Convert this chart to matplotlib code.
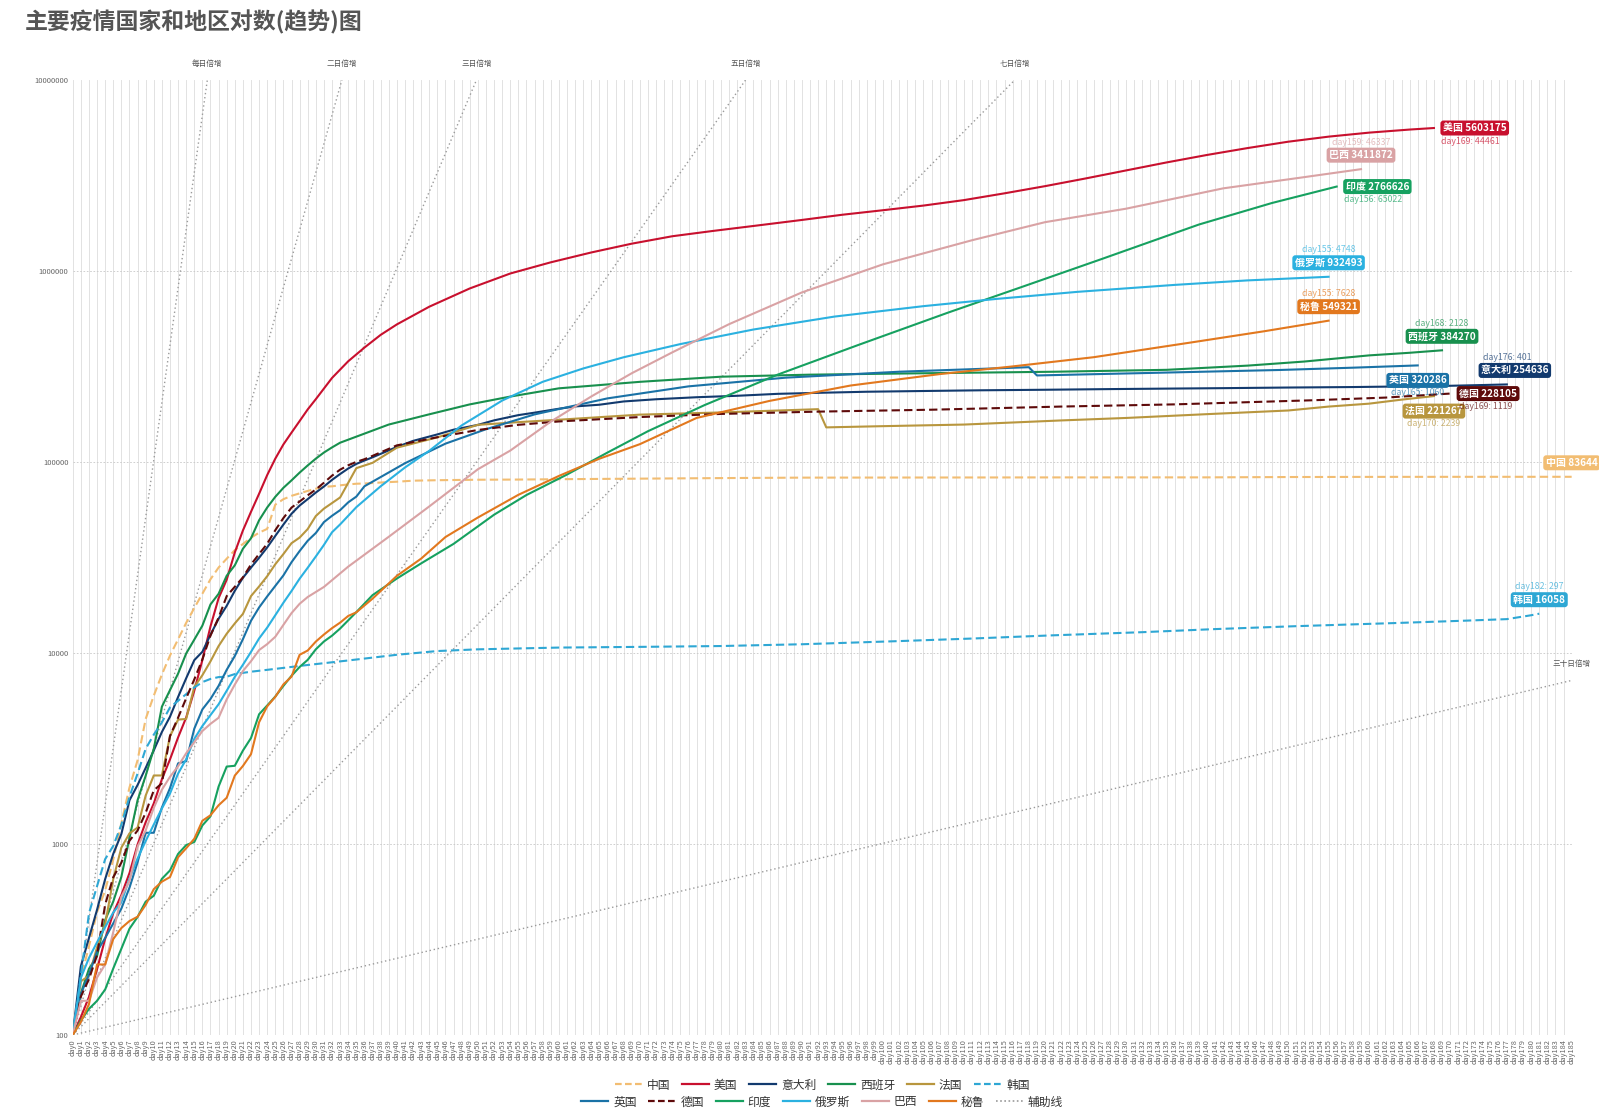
import matplotlib
matplotlib.use('Agg')
import matplotlib.pyplot as plt
from matplotlib.lines import Line2D
import numpy as np

plt.rcParams['font.family'] = ['Noto Sans CJK SC', 'DejaVu Sans']

# ---- data (cumulative cases, day index from first ~100 cases) ----
cn_days = list(range(37)) + [38, 40, 42, 45, 50, 55, 60, 70, 80, 90, 100, 110, 120, 140, 150, 160, 170, 185]
cn_vals = [100, 198, 291, 440, 571, 830, 1287, 1975, 2744, 4515, 5974, 7711, 9692, 11791, 14380, 17205, 20438,
           24324, 28018, 31161, 34546, 37198, 40171, 42638, 44653, 59804, 63851, 66492, 68500, 70548, 72436, 74185,
           74576, 75465, 76288, 76936, 77150,
           78064, 78824, 79824, 80270, 80735, 80905, 81250, 81800, 82350, 82800, 82880, 82950, 83020, 83070, 83400,
           83540, 83600, 83644]

us_days = list(range(31)) + [32, 34, 36, 38, 40, 44, 49, 54, 59, 64, 69, 74, 79, 84, 90, 95, 100, 105, 110, 115,
                             120, 125, 130, 135, 140, 145, 150, 155, 160, 165, 168]
us_vals = [100, 124, 158, 221, 319, 435, 541, 704, 994, 1301, 1630, 2183, 2770, 3613, 4596, 6344, 9197, 13779,
           19367, 24192, 33592, 43781, 54856, 68211, 85435, 104126, 123578, 142460, 163788, 188461, 213242,
           275367, 336802, 397121, 462780, 525000, 650000, 810000, 970000, 1110000, 1250000, 1390000, 1520000,
           1620000, 1720000, 1850000, 1970000, 2080000, 2200000, 2350000, 2550000, 2780000, 3050000, 3360000,
           3700000, 4050000, 4400000, 4750000, 5050000, 5300000, 5500000, 5603175]

it_days = list(range(38)) + [40, 42, 45, 47, 50, 52, 55, 57, 60, 62, 65, 68, 72, 77, 82, 87, 92, 98, 105, 112, 120,
                             128, 135, 142, 150, 158, 165, 170, 175, 177]
it_vals = [100, 229, 322, 453, 655, 888, 1128, 1694, 2036, 2502, 3089, 3858, 4636, 5883, 7375, 9172, 10149, 12462,
           15113, 17660, 21157, 24747, 27980, 31506, 35713, 41035, 47021, 53578, 59138, 63927, 69176, 74386, 80589,
           86498, 92472, 97689, 101739, 105792,
           119827, 128948, 139422, 147577, 156363, 165155, 175925, 181228, 189973, 195351, 199414, 207428, 213013,
           218268, 222104, 227364, 230158, 233197, 235278, 237290, 238833, 240760, 242149, 243506, 245338, 246776,
           248803, 250566, 253438, 254636]

es_days = list(range(34)) + [39, 44, 49, 54, 60, 70, 80, 91, 105, 121, 135, 145, 152, 160, 165, 169]
es_vals = [100, 165, 222, 259, 400, 500, 673, 1073, 1695, 2277, 3146, 5232, 6391, 7798, 9942, 11748, 13910, 17963,
           20410, 25374, 28768, 35136, 39885, 49515, 57786, 65719, 73235, 80110, 87956, 95923, 104118, 112065,
           119199, 126168,
           157022, 177644, 200210, 220000, 242988, 262783, 279524, 286509, 291408, 296739, 303699, 319501, 335602,
           361442, 373000, 384270]

fr_days = list(range(32)) + [33, 35, 37, 40, 45, 50, 55, 60, 70, 80, 92, 93, 100, 110, 122, 130, 140, 150, 155, 160,
                             164, 168]
fr_vals = [100, 191, 204, 288, 380, 656, 957, 1136, 1219, 1794, 2284, 2284, 3661, 4480, 4513, 6650, 7652, 9043,
           10871, 12612, 14282, 16018, 19856, 22304, 25233, 29155, 32964, 37575, 40174, 44550, 52128, 56989,
           65202, 92839, 98963, 118781, 134582, 156480, 161644, 166420, 176970, 181700, 189009, 151753, 154000,
           157000, 165000, 170000, 178000, 186000, 195000, 202000, 212000, 221267]

kr_days = list(range(23)) + [24, 29, 34, 40, 45, 50, 60, 71, 80, 90, 102, 111, 121, 132, 141, 151, 163, 172, 177,
                             179, 180, 181]
kr_vals = [100, 204, 433, 602, 833, 977, 1261, 1766, 2337, 3150, 3736, 4335, 5186, 5621, 6088, 6593, 7041, 7314,
           7478, 7513, 7755, 7869, 7979,
           8162, 8652, 9137, 9786, 10237, 10450, 10674, 10774, 10874, 11110, 11541, 11902, 12373, 12850, 13338,
           13816, 14336, 14770, 15039, 15515, 15761, 16058]

uk_days = list(range(36)) + [36, 41, 46, 51, 57, 66, 76, 88, 102, 118, 119, 132, 149, 158, 166]
uk_vals = [100, 164, 207, 274, 322, 384, 459, 590, 802, 1144, 1145, 1551, 1960, 2642, 2716, 4014, 5067, 5745, 6726,
           8164, 9640, 11812, 14745, 17312, 19780, 22453, 25481, 29865, 34173, 38689, 42477, 48436, 52279, 55949,
           61474, 65872,
           74605, 98476, 124743, 148377, 177454, 215260, 248818, 276332, 296857, 313483, 283757, 291911, 303181,
           311641, 320286]

de_days = list(range(38)) + [40, 45, 50, 55, 60, 70, 80, 92, 106, 122, 136, 153, 162, 170]
de_vals = [100, 159, 196, 262, 482, 670, 799, 1040, 1176, 1457, 1908, 2078, 3675, 4585, 5795, 7272, 9257, 12327,
           15320, 19848, 22213, 24873, 29056, 32986, 37323, 43938, 50871, 57695, 62095, 66885, 71808, 77872, 84794,
           91159, 96092, 100123, 103374, 107663,
           122171, 134753, 147065, 156513, 163009, 171879, 178473, 183494, 187764, 195042, 200260, 210402, 217293,
           228105]

in_days = list(range(34)) + [35, 37, 40, 43, 47, 52, 56, 61, 66, 71, 78, 87, 97, 108, 117, 127, 139, 148, 156]
in_vals = [100, 119, 137, 151, 173, 223, 283, 360, 415, 499, 536, 657, 727, 887, 987, 1024, 1251, 1397, 1998, 2543,
           2567, 3082, 3588, 4778, 5311, 5916, 6725, 7598, 8446, 9205, 10453, 11487, 12322, 13430,
           16365, 20080, 24530, 29451, 37257, 52952, 67161, 85940, 112028, 144950, 198706, 286579, 410461, 604641,
           820916, 1155191, 1750723, 2268675, 2766626]

ru_days = list(range(34)) + [35, 38, 41, 44, 48, 53, 58, 63, 68, 75, 84, 94, 105, 114, 124, 136, 145, 155]
ru_vals = [100, 199, 253, 306, 367, 438, 495, 658, 840, 1036, 1264, 1534, 1836, 2337, 2777, 3548, 4149, 4731, 5389,
           6343, 7497, 8672, 10131, 11917, 13584, 15770, 18328, 21102, 24490, 27938, 32008, 36793, 42853, 47121,
           57999, 74588, 93558, 114431, 155370, 209688, 262843, 308705, 353427, 414328, 493657, 576952, 654405,
           713936, 777486, 845443, 892654, 932493]

br_days = list(range(30)) + [31, 34, 39, 44, 50, 54, 59, 64, 69, 74, 81, 90, 100, 111, 120, 130, 142, 151, 159]
br_vals = [100, 151, 151, 200, 234, 346, 529, 640, 970, 1178, 1546, 1924, 2247, 2554, 2985, 3417, 3904, 4256, 4579,
           5717, 6836, 8044, 9056, 10360, 11130, 12161, 14034, 16170, 18092, 19638,
           22169, 28320, 40581, 58509, 91589, 114715, 162699, 220291, 291579, 374898, 526447, 772416, 1083341,
           1448753, 1800827, 2118646, 2707877, 3057470, 3411872]

pe_days = list(range(36)) + [37, 40, 43, 46, 50, 55, 60, 65, 70, 77, 86, 96, 107, 116, 126, 138, 147, 155]
pe_vals = [100, 117, 145, 234, 234, 318, 363, 395, 416, 480, 580, 635, 671, 852, 950, 1065, 1323, 1414, 1595, 1746,
           2281, 2561, 2954, 4342, 5256, 5897, 6848, 7519, 9784, 10303, 11475, 12491, 13489, 14420, 15628, 16325,
           19250, 25331, 31190, 40459, 51189, 67307, 84495, 104020, 123979, 170039, 208823, 251338, 288477, 316448,
           353590, 422183, 483133, 549321]

n_days = 186
x_labels = ['day%d' % i for i in range(n_days)]

# doubling reference lines
dbl_periods = [1, 2, 3, 5, 7, 30]
dbl_names = ['每日倍增', '二日倍增', '三日倍增', '五日倍增', '七日倍增', '三十日倍增']

series = [
    # name, days, vals, color, dashed, day text, label side
    ('中国', cn_days, cn_vals, '#f2bd72', True, None, 'up'),
    ('美国', us_days, us_vals, '#c8102e', False, 'day169: 44461', 'right'),
    ('意大利', it_days, it_vals, '#123a6e', False, 'day176: 401', 'upr'),
    ('西班牙', es_days, es_vals, '#18904e', False, 'day168: 2128', 'up'),
    ('法国', fr_days, fr_vals, '#b8963e', False, 'day170: 2239', 'down'),
    ('韩国', kr_days, kr_vals, '#2ea7d4', True, 'day182: 297', 'up'),
    ('英国', uk_days, uk_vals, '#1a72a6', False, 'day165: 1060', 'down'),
    ('德国', de_days, de_vals, '#5e0a0a', True, 'day169: 1119', 'right'),
    ('印度', in_days, in_vals, '#16a160', False, 'day156: 65022', 'right'),
    ('俄罗斯', ru_days, ru_vals, '#2bb1e0', False, 'day155: 4748', 'up'),
    ('巴西', br_days, br_vals, '#d9a2a4', False, 'day159: 46337', 'up'),
    ('秘鲁', pe_days, pe_vals, '#e2781e', False, 'day155: 7628', 'up'),
]

fig = plt.figure(figsize=(15.99, 11.2), dpi=100)
ax = fig.add_axes([0.0455, 0.0759, 0.9374, 0.8527])
ax.set_yscale('log')
ax.set_xlim(0, n_days - 1)
ax.set_ylim(100, 1e7)

# grid
for i in range(n_days):
    ax.axvline(i, color='#e2e2e2', lw=0.7, zorder=0)
for p in range(3, 7):
    ax.axhline(10 ** p, color='#c8c8c8', lw=0.6, ls=(0, (2, 2)), zorder=0)

# helper lines
top = 1e7
for n, name in zip(dbl_periods, dbl_names):
    end = min(n_days - 1, n * np.log2(top / 100))
    endv = 100 * 2 ** (end / n)
    ax.plot([0, end], [100, endv], color='#9a9a9a', lw=1.0, ls=(0, (1, 2)), zorder=1)
    ax.annotate(name, (end, endv), xytext=(0, 12), textcoords='offset pixels', ha='center', va='bottom',
                fontsize=5.5, color='#555555', annotation_clip=False)

# country lines
for name, d, v, c, dashed, daytxt, side in series:
    ls = (0, (4, 2)) if dashed else '-'
    ax.plot(d, v, color=c, lw=1.5, ls=ls, zorder=3)
    box = dict(boxstyle='round,pad=0.25,rounding_size=0.3', fc=c, ec='none')
    ex, ey = d[-1], v[-1]
    txt = '%s %d' % (name, v[-1])
    if side == 'right':
        ax.annotate(txt, (ex, ey), xytext=(9, 0), textcoords='offset pixels', ha='left', va='center',
                    fontsize=7.2, color='white', fontweight='bold', bbox=box, zorder=5)
        w = 36 if len(name) == 2 else 40
        if daytxt:
            ax.annotate(daytxt, (ex, ey), xytext=(w, -13), textcoords='offset pixels', ha='center', va='center',
                        fontsize=6.3, color=c, alpha=0.7, zorder=5)
    elif side == 'down':
        ax.annotate(txt, (ex, ey), xytext=(0, -15), textcoords='offset pixels', ha='center', va='center',
                    fontsize=7.2, color='white', fontweight='bold', bbox=box, zorder=5)
        if daytxt:
            ax.annotate(daytxt, (ex, ey), xytext=(0, -27), textcoords='offset pixels', ha='center', va='center',
                        fontsize=6.3, color=c, alpha=0.7, zorder=5)
    else:
        dx = 8 if side == 'upr' else 0
        ax.annotate(txt, (ex, ey), xytext=(dx, 14), textcoords='offset pixels', ha='center', va='center',
                    fontsize=7.2, color='white', fontweight='bold', bbox=box, zorder=5)
        if daytxt:
            ax.annotate(daytxt, (ex, ey), xytext=(0, 27), textcoords='offset pixels', ha='center', va='center',
                        fontsize=6.3, color=c, alpha=0.7, zorder=5)

# axes styling
ax.set_xticks(range(n_days))
ax.set_xticklabels(x_labels, rotation=90, fontsize=5.3, color='#666666')
ax.set_yticks([100, 1000, 10000, 100000, 1000000, 10000000])
ax.set_yticklabels(['100', '1000', '10000', '100000', '1000000', '10000000'], fontsize=5.5, color='#666666')
ax.yaxis.set_minor_locator(matplotlib.ticker.NullLocator())
ax.tick_params(length=0, pad=3)
for s in ax.spines.values():
    s.set_visible(False)

fig.text(25 / 1599, 1 - 22 / 1120, '主要疫情国家和地区对数(趋势)图', fontsize=16.5, fontweight='bold',
         color='#555555', ha='left', va='center')

# legend in two rows
def handle(c, dashed):
    return Line2D([], [], color=c, lw=1.6, ls=(0, (3, 1.5)) if dashed else '-')

row1 = series[:6]
row2 = series[6:]
h1 = [handle(s[3], s[4]) for s in row1]
h2 = [handle(s[3], s[4]) for s in row2] + [Line2D([], [], color='#9a9a9a', lw=1.2, ls=(0, (1, 1.5)))]
l1 = [s[0] for s in row1]
l2 = [s[0] for s in row2] + ['辅助线']
cx = (0.0455 + 0.0455 + 0.9374) / 2
for h, l, y in [(h1, l1, 1 - 1085 / 1120), (h2, l2, 1 - 1102 / 1120)]:
    fig.legend(h, l, loc='center', bbox_to_anchor=(cx, y), ncol=len(l), frameon=False, fontsize=8.5,
               handlelength=2.3, columnspacing=1.0, handletextpad=0.4, labelcolor='#333333')

fig.savefig('out.png', dpi=100)
